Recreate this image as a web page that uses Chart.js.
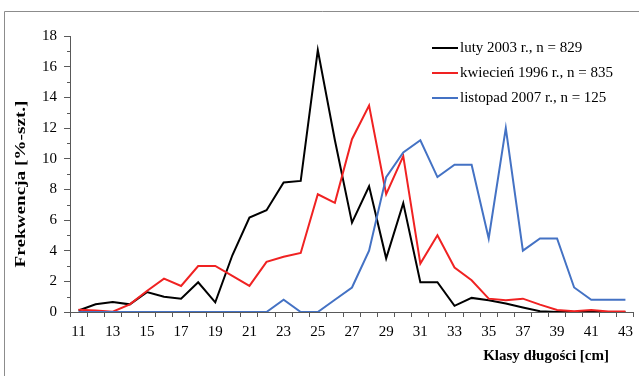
<!DOCTYPE html>
<html>
<head>
<meta charset="utf-8">
<script src="https://cdn.jsdelivr.net/npm/chart.js@4/dist/chart.umd.min.js"></script>
<style>
  html, body { margin: 0; padding: 0; background: #fff; }
  #chart { display: block; }
</style>
</head>
<body>
<canvas id="chart" width="639" height="376"></canvas>
<script>
const lengthClasses = ["11", "12", "13", "14", "15", "16", "17", "18", "19", "20", "21", "22", "23", "24", "25", "26", "27",
  "28", "29", "30", "31", "32", "33", "34", "35", "36", "37", "38", "39", "40", "41", "42", "43"];

const lutyValues = [0.1, 0.5, 0.65, 0.5, 1.3, 1.0, 0.87, 1.94, 0.63, 3.7, 6.16, 6.64, 8.45, 8.55, 17.08, 11.2, 5.83,
  8.2, 3.5, 7.1, 1.94, 1.94, 0.4, 0.92, 0.77, 0.55, 0.3, 0.05, 0, 0, 0, 0, 0];
const kwiecienValues = [0.15, 0.1, 0.02, 0.5, 1.37, 2.18, 1.7, 3.0, 3.0, 2.35, 1.7, 3.27, 3.6, 3.85, 7.68, 7.12, 11.27,
  13.47, 7.68, 10.16, 3.16, 5.0, 2.9, 2.07, 0.87, 0.76, 0.87, 0.48, 0.13, 0.05, 0.13, 0.03, 0.03];
const listopadValues = [0, 0, 0, 0, 0, 0, 0, 0, 0, 0, 0, 0, 0.8, 0, 0, 0.8, 1.6,
  4.0, 8.8, 10.4, 11.2, 8.8, 9.6, 9.6, 4.8, 12.0, 4.0, 4.8, 4.8, 1.6, 0.8, 0.8, 0.8];

const seriesLabels = ["luty 2003 r., n = 829", "kwiecień 1996 r., n = 835", "listopad 2007 r., n = 125"];
const yTicks = [0, 2, 4, 6, 8, 10, 12, 14, 16, 18];

const serif = "'Liberation Serif', 'Times New Roman', serif";
const axisColor = "#595959";

// frame, minor y ticks, axis titles and the legend inside the plot
const extras = {
  id: "extras",
  afterDraw(chart) {
    const ctx = chart.ctx;
    const y = chart.scales.y;
    ctx.save();

    ctx.strokeStyle = "#8c8c8c";
    ctx.lineWidth = 1;
    ctx.beginPath();
    ctx.moveTo(4.5, 380);
    ctx.lineTo(4.5, 11.5);
    ctx.lineTo(645, 11.5);
    ctx.stroke();

    ctx.strokeStyle = axisColor;
    ctx.beginPath();
    for (let v = 1; v < 18; v += 2) {
      const py = Math.round(y.getPixelForValue(v)) + 0.5;
      ctx.moveTo(y.right - 3, py);
      ctx.lineTo(y.right, py);
    }
    ctx.stroke();

    // y title is drawn stretched along its length
    ctx.fillStyle = "#000";
    ctx.font = "bold 15px " + serif;
    ctx.textAlign = "center";
    ctx.textBaseline = "middle";
    const yTitle = "Frekwencja [%-szt.]";
    const stretch = 167 / ctx.measureText(yTitle).width;
    ctx.save();
    ctx.translate(21.5, 184);
    ctx.rotate(-Math.PI / 2);
    ctx.scale(stretch, 1);
    ctx.fillText(yTitle, 0, 0);
    ctx.restore();

    ctx.font = "bold 15px " + serif;
    ctx.textAlign = "right";
    ctx.fillText("Klasy długości [cm]", 609, 356);

    ctx.font = "15px " + serif;
    ctx.textAlign = "left";
    chart.data.datasets.forEach((ds, i) => {
      const ly = 48 + i * 25;
      ctx.strokeStyle = ds.borderColor;
      ctx.lineWidth = 2;
      ctx.beginPath();
      ctx.moveTo(432, ly);
      ctx.lineTo(458, ly);
      ctx.stroke();
      ctx.fillStyle = "#000";
      ctx.fillText(ds.label, 460, ly);
    });
    ctx.restore();
  },
};

new Chart(document.getElementById("chart"), {
  type: "line",
  data: {
    labels: lengthClasses,
    datasets: [
      { label: seriesLabels[0], data: lutyValues, borderColor: "#000000", order: 2 },
      { label: seriesLabels[1], data: kwiecienValues, borderColor: "#f02222", order: 1 },
      { label: seriesLabels[2], data: listopadValues, borderColor: "#4472c4", order: 0 },
    ],
  },
  options: {
    responsive: false,
    animation: false,
    layout: { padding: { left: 0, top: 36, right: 5, bottom: 0 } },
    elements: {
      line: { borderWidth: 2, tension: 0 },
      point: { radius: 0 },
    },
    plugins: { legend: { display: false }, tooltip: { enabled: false } },
    scales: {
      x: {
        type: "category",
        offset: true,
        grid: { offset: true, drawOnChartArea: false, tickLength: 5, color: axisColor },
        border: { color: axisColor, width: 1 },
        ticks: {
          autoSkip: false,
          maxRotation: 0,
          padding: 6,
          color: "#000",
          font: { family: serif, size: 15 },
          callback: (value, index) => (index % 2 === 0 ? lengthClasses[index] : ""),
        },
        afterFit: (scale) => { scale.height = 64; },
      },
      y: {
        min: 0,
        max: 18,
        afterBuildTicks: (scale) => { scale.ticks = yTicks.map((v) => ({ value: v })); },
        grid: { drawOnChartArea: false, tickLength: 6, color: axisColor },
        border: { color: axisColor, width: 1 },
        ticks: { padding: 7, color: "#000", font: { family: serif, size: 15 } },
        afterFit: (scale) => { scale.width = 70; },
      },
    },
  },
  plugins: [extras],
});
</script>
</body>
</html>
